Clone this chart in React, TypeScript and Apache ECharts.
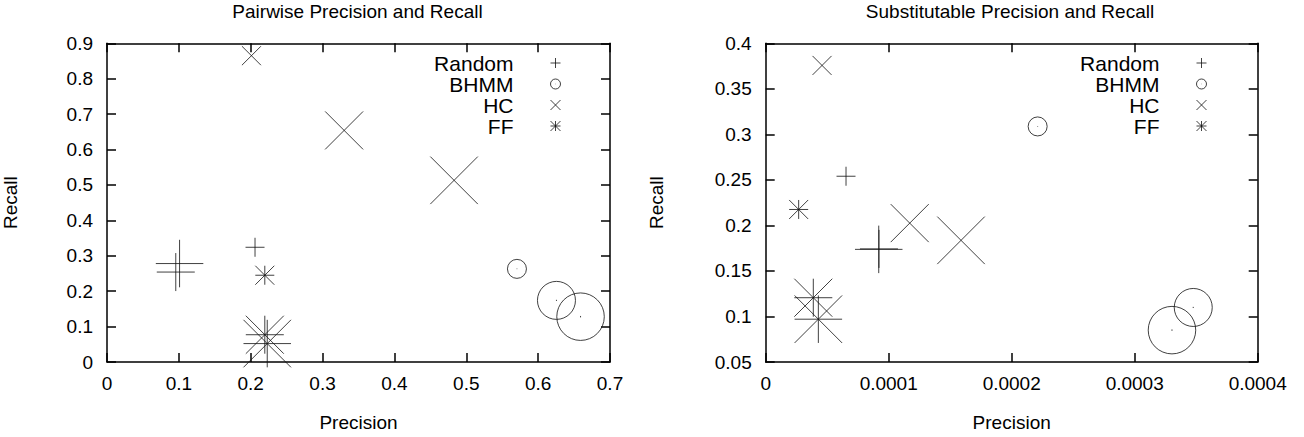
import React, { useEffect, useRef } from "react";
import * as echarts from "echarts";

// ---- data ----
const methods = ["Random", "BHMM", "HC", "FF"];
// relative point size of the three runs of each method (small, medium, large)
const pointScale = [1, 2, 2.5];

// Pairwise precision / recall
const pwRandomP = [0.206, 0.0957, 0.101];
const pwRandomR = [0.324, 0.254, 0.278];
const pwBhmmP = [0.5705, 0.6255, 0.659];
const pwBhmmR = [0.263, 0.174, 0.128];
const pwHcP = [0.201, 0.33, 0.483];
const pwHcR = [0.865, 0.654, 0.513];
const pwFfP = [0.2196, 0.2196, 0.223];
const pwFfR = [0.245, 0.077, 0.052];

// Substitutable precision / recall
const subRandomP = [0.0000653, 0.0000921, 0.0000919];
const subRandomR = [0.254, 0.1742, 0.1737];
const subBhmmP = [0.0002211, 0.0003476, 0.0003303];
const subBhmmR = [0.3087, 0.1099, 0.085];
const subHcP = [0.0000458, 0.0001171, 0.0001588];
const subHcR = [0.3757, 0.2025, 0.1836];
const subFfP = [0.0000268, 0.0000387, 0.0000428];
const subFfR = [0.2175, 0.1206, 0.097];

const pwXTicks = { min: 0, max: 0.7, interval: 0.1 };
const pwYTicks = { min: 0, max: 0.9, interval: 0.1 };
const subXTicks = { min: 0, max: 0.0004, interval: 0.0001 };
const subYTicks = { min: 0.05, max: 0.4, interval: 0.05 };

// ---- styles ----
const FONT = "'Liberation Sans', Arial, Helvetica, sans-serif";
const BASE = 19;
const SYM: Record<string, string> = {
  Random: "path://M0,5L10,5M5,0L5,10",
  BHMM: "path://M10,5A5,5,0,1,1,0,5A5,5,0,1,1,10,5ZM5,4.85L5,5.15",
  HC: "path://M0,0L10,10M10,0L0,10",
  FF: "path://M0,5L10,5M5,0L5,10M0,0L10,10M10,0L0,10",
};

function mkSeries(name: string, xs: number[], ys: number[], idx: number) {
  return {
    type: "scatter",
    name,
    xAxisIndex: idx * 2,
    yAxisIndex: idx * 2,
    symbol: SYM[name],
    symbolKeepAspect: true,
    silent: true,
    itemStyle: { color: "transparent", borderColor: "#111", borderWidth: 1 },
    emphasis: { disabled: true },
    data: xs.map((x, i) => ({ value: [x, ys[i]], symbolSize: BASE * pointScale[i] })),
  };
}

function axisPair(kind: "x" | "y", gridIndex: number, t: any, name: string, nameGap: number, labelMargin: number) {
  const common = {
    type: "value",
    gridIndex,
    min: t.min,
    max: t.max,
    interval: t.interval,
    splitLine: { show: false },
    axisLine: { show: true, onZero: false, lineStyle: { color: "#000", width: 1.5 } },
    axisTick: { show: true, inside: true, length: 9, lineStyle: { color: "#000", width: 1.5 } },
  };
  const main = {
    ...common,
    position: kind === "x" ? "bottom" : "left",
    name,
    nameLocation: "middle",
    nameGap,
    nameRotate: kind === "y" ? 90 : 0,
    nameTextStyle: { fontFamily: FONT, fontSize: 19, color: "#000" },
    axisLabel: { show: true, margin: labelMargin, fontFamily: FONT, fontSize: 19, color: "#000" },
  };
  const mirror = {
    ...common,
    position: kind === "x" ? "top" : "right",
    axisLabel: { show: false },
  };
  return [main, mirror];
}

export default function App() {
  const ref = useRef<HTMLDivElement>(null);
  useEffect(() => {
    if (!ref.current) return;
    const chart = echarts.init(ref.current, null, { renderer: "svg" });
    const legendCommon = {
      orient: "vertical",
      align: "right",
      top: 52.5,
      padding: 0,
      itemGap: 0,
      itemWidth: 74,
      itemHeight: 10,
      symbolKeepAspect: true,
      selectedMode: false,
      data: methods,
      itemStyle: { color: "transparent", borderColor: "#111", borderWidth: 1 },
      textStyle: { fontFamily: FONT, fontSize: 21, color: "#000", lineHeight: 21 },
    };
    chart.setOption({
      animation: false,
      backgroundColor: "#fff",
      title: [
        {
          text: "Pairwise Precision and Recall",
          left: 357.5,
          textAlign: "center",
          top: 2,
          padding: 0,
          textStyle: { fontFamily: FONT, fontSize: 19, fontWeight: "normal", color: "#000" },
        },
        {
          text: "Substitutable Precision and Recall",
          left: 1010,
          textAlign: "center",
          top: 2,
          padding: 0,
          textStyle: { fontFamily: FONT, fontSize: 19, fontWeight: "normal", color: "#000" },
        },
      ],
      legend: [
        { ...legendCommon, right: 743 },
        { ...legendCommon, right: 97 },
      ],
      grid: [
        { left: 105, right: 694, top: 43.3, bottom: 66.3 },
        { left: 765.7, right: 46.3, top: 43.3, bottom: 66.3 },
      ],
      xAxis: [
        ...axisPair("x", 0, pwXTicks, "Precision", 51, 12),
        ...axisPair("x", 1, subXTicks, "Precision", 51, 12),
      ],
      yAxis: [
        ...axisPair("y", 0, pwYTicks, "Recall", 87, 14),
        ...axisPair("y", 1, subYTicks, "Recall", 100, 14),
      ],
      series: [
        mkSeries("Random", pwRandomP, pwRandomR, 0),
        mkSeries("BHMM", pwBhmmP, pwBhmmR, 0),
        mkSeries("HC", pwHcP, pwHcR, 0),
        mkSeries("FF", pwFfP, pwFfR, 0),
        mkSeries("Random", subRandomP, subRandomR, 1),
        mkSeries("BHMM", subBhmmP, subBhmmR, 1),
        mkSeries("HC", subHcP, subHcR, 1),
        mkSeries("FF", subFfP, subFfR, 1),
      ],
    });
    return () => chart.dispose();
  }, []);
  return (
    <div
      ref={ref}
      style={{ position: "absolute", left: 0, top: 0, width: 1304, height: 437, background: "#fff" }}
    />
  );
}
